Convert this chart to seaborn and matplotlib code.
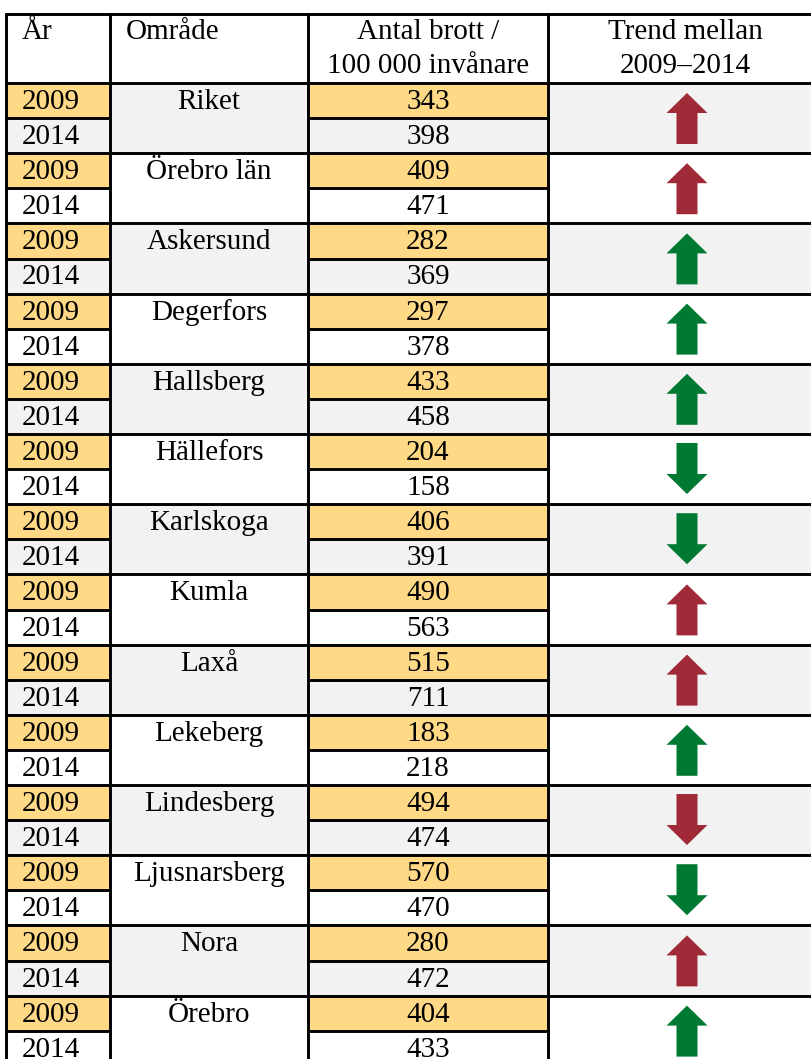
import numpy as np
import pandas as pd
import seaborn as sns
import matplotlib.pyplot as plt
from matplotlib.patches import Rectangle, FancyArrow

areas = ["Riket", "Örebro län", "Askersund", "Degerfors", "Hallsberg", "Hällefors",
         "Karlskoga", "Kumla", "Laxå", "Lekeberg", "Lindesberg", "Ljusnarsberg",
         "Nora", "Örebro"]
years = ["2009", "2014"]
v2009 = [343, 409, 282, 297, 433, 204, 406, 490, 515, 183, 494, 570, 280, 404]
v2014 = [398, 471, 369, 378, 458, 158, 391, 563, 711, 218, 474, 470, 472, 433]
trend_color = ["red", "red", "green", "green", "green", "green", "green",
               "red", "red", "green", "red", "green", "red", "green"]
header_line1 = ["År", "Område", "Antal brott /", "Trend mellan"]
header_line2 = ["", "", "100 000 invånare", "2009–2014"]

df = pd.DataFrame({"area": areas, "v2009": v2009, "v2014": v2014, "color": trend_color})
df["up"] = df["v2014"] > df["v2009"]

sns.set_theme(style="white")
plt.rcParams["font.family"] = ["Liberation Serif", "DejaVu Serif"]
plt.rcParams["text.color"] = "black"

# layout (pixels)
W, H = 812, 1059
cols = [6, 110, 308, 548, 830]
top, head_bot, rh = 14, 83, 35.1
base = 26  # baseline offset in a row
yellow, grey = "#FFD985", "#F2F2F2"
palette = {"red": "#A12A38", "green": "#007A33"}
fs = 21
lw = 2.1

fig = plt.figure(figsize=(W / 100, H / 100), dpi=100)
ax = fig.add_axes([0, 0, 1, 1])
ax.set_xlim(0, W)
ax.set_ylim(H, 0)
ax.axis("off")

for i, r in df.iterrows():
    y0 = head_bot + 2 * i * rh
    bg = grey if i % 2 == 0 else "white"
    # group background
    ax.add_patch(Rectangle((cols[0], y0), cols[4] - cols[0], 2 * rh, color=bg, lw=0, zorder=0))
    # yellow 2009 cells
    for c in (0, 2):
        ax.add_patch(Rectangle((cols[c], y0), cols[c + 1] - cols[c], rh, color=yellow, lw=0, zorder=1))
    for k, val in enumerate([r["v2009"], r["v2014"]]):
        yb = y0 + k * rh + base
        ax.text(cols[0] + 16, yb, years[k], fontsize=fs, ha="left", va="baseline", zorder=3)
        ax.text((cols[2] + cols[3]) / 2, yb, str(val), fontsize=fs, ha="center", va="baseline", zorder=3)
    ax.text((cols[1] + cols[2]) / 2, y0 + base, r["area"], fontsize=fs, ha="center", va="baseline", zorder=3)
    # inner line between 2009 and 2014 rows
    for c in (0, 2):
        ax.plot([cols[c], cols[c + 1]], [y0 + rh, y0 + rh], color="black", lw=lw, zorder=4)
    # group line
    ax.plot([cols[0], W], [y0, y0], color="black", lw=lw, zorder=4)
    # arrow
    xc = 687
    col = palette[r["color"]]
    if r["up"]:
        ax.add_patch(FancyArrow(xc, y0 + 61, 0, -51, width=21, head_width=41, head_length=20,
                                length_includes_head=True, color=col, lw=0, zorder=3))
    else:
        ax.add_patch(FancyArrow(xc, y0 + 9, 0, 51, width=21, head_width=41, head_length=20,
                                length_includes_head=True, color=col, lw=0, zorder=3))

# header
ax.plot([cols[0], W], [top, top], color="black", lw=lw, zorder=4)
hx = [cols[0] + 16, cols[1] + 16, (cols[2] + cols[3]) / 2, 685]
ha = ["left", "left", "center", "center"]
for j in range(4):
    ax.text(hx[j], 39, header_line1[j], fontsize=fs, ha=ha[j], va="baseline")
    ax.text(hx[j], 73, header_line2[j], fontsize=fs, ha=ha[j], va="baseline")

for x in cols[:4]:
    ax.plot([x, x], [top, H + 10], color="black", lw=lw, zorder=4)

fig.savefig("out.png", dpi=100)
